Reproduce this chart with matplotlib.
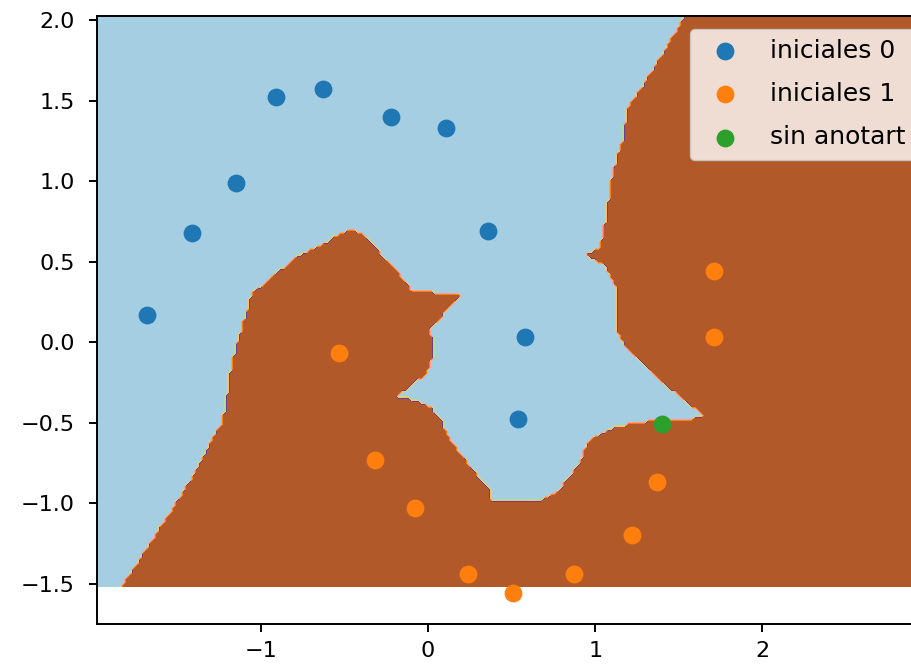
import numpy as np
import matplotlib
matplotlib.use("Agg")
import matplotlib.pyplot as plt
from matplotlib.path import Path

# puntos anotados
x0 = [-1.68, -1.41, -1.15, -0.91, -0.63, -0.22, 0.11, 0.36, 0.58, 0.54]
y0 = [0.17, 0.68, 0.99, 1.52, 1.57, 1.40, 1.33, 0.69, 0.03, -0.48]
x1 = [-0.53, -0.32, -0.08, 0.24, 0.51, 0.87, 1.22, 1.37, 1.71, 1.71]
y1 = [-0.07, -0.73, -1.03, -1.44, -1.56, -1.44, -1.20, -0.87, 0.44, 0.03]
xs = [1.40]
ys = [-0.51]

# frontera de la region de clase 1 (aproximada a ojo)
front_x = [-1.83, -1.56, -1.42, -1.29, -1.23, -1.20, -1.17, -1.09, -1.05, -0.90,
           -0.75, -0.59, -0.45, -0.36, -0.23, -0.09, 0.17, 0.19, 0.01, 0.04,
           -0.01, -0.11, -0.21, -0.15, 0.01, 0.07, 0.13, 0.27, 0.37, 0.37,
           0.67, 0.77, 0.89, 0.97, 1.07, 1.23, 1.67, 1.57, 1.37, 1.17,
           1.14, 1.14, 1.09, 1.04, 0.95, 1.03, 1.05, 1.07, 1.09, 1.13,
           1.17, 1.19, 1.23, 1.37, 1.49, 1.54, 1.60, 3.5, 3.5]
front_y = [-1.52, -1.09, -0.86, -0.61, -0.50, -0.32, -0.11, 0.16, 0.30, 0.43,
           0.55, 0.63, 0.71, 0.63, 0.49, 0.31, 0.30, 0.28, 0.09, -0.05,
           -0.19, -0.28, -0.33, -0.34, -0.40, -0.47, -0.61, -0.80, -0.92, -0.98,
           -0.98, -0.94, -0.78, -0.61, -0.55, -0.50, -0.47, -0.39, -0.22, -0.01,
           0.06, 0.30, 0.43, 0.49, 0.54, 0.59, 0.68, 0.78, 0.96, 1.15,
           1.25, 1.44, 1.50, 1.73, 1.94, 2.03, 2.2, 2.2, -1.52]

h = 0.02
xx, yy = np.meshgrid(np.arange(-2.1, 3.5, h), np.arange(-1.515, 2.2, h))
camino = Path(np.column_stack([front_x, front_y]))
Z = camino.contains_points(np.c_[xx.ravel(), yy.ravel()]).astype(int)
Z = Z.reshape(xx.shape)

fig = plt.figure(figsize=(9.11, 6.67), dpi=100)
ax = fig.add_axes([97 / 911, 43 / 667, 831 / 911, 608 / 667])
ax.contourf(xx, yy, Z, cmap=plt.cm.Paired)
ax.scatter(x0, y0, s=140, label="iniciales 0")
ax.scatter(x1, y1, s=140, label="iniciales 1")
ax.scatter(xs, ys, s=140, label="sin anotart")
ax.set_xlim(-1.98, 2.99)
ax.set_ylim(-1.75, 2.025)
ax.set_xticks([-1, 0, 1, 2])
ax.tick_params(labelsize=16, length=6, width=1.4)
ax.tick_params(axis="x", pad=6)
ax.tick_params(axis="y", pad=10)
for s in ax.spines.values():
    s.set_linewidth(1.4)
ax.legend(loc="upper right", fontsize=18, labelspacing=0.78)

plt.savefig("out.png")
